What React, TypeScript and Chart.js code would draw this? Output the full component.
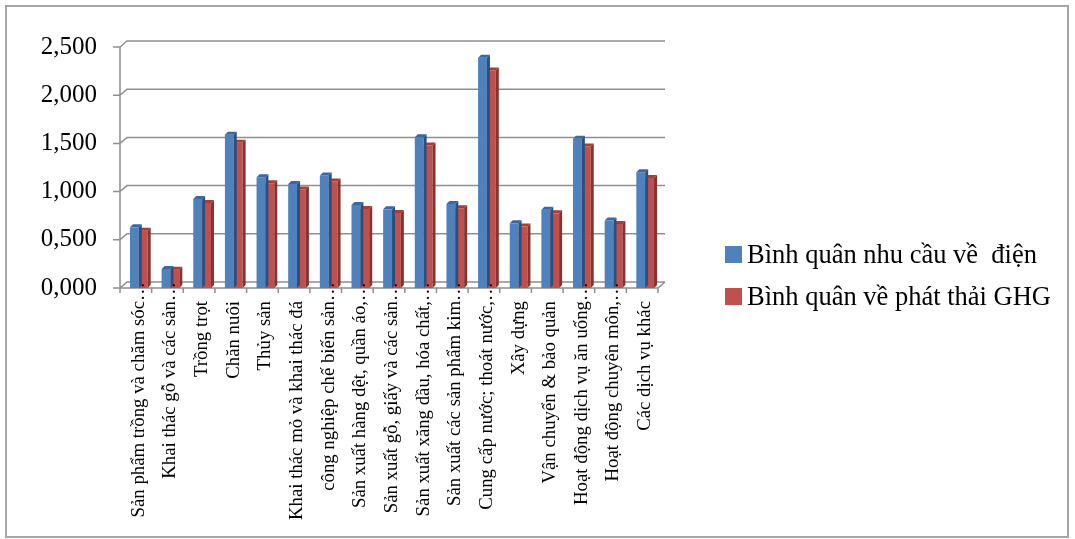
import React, { useEffect, useRef } from "react";
import { Chart, registerables } from "chart.js";

Chart.register(...registerables);

const categories: string[] = [
  "Sản phẩm trồng và chăm sóc…",
  "Khai thác gỗ và các sản…",
  "Trồng trọt",
  "Chăn nuôi",
  "Thủy sản",
  "Khai thác mỏ và khai thác đá",
  "công nghiệp chế biến sản…",
  "Sản xuất hàng dệt, quần áo,…",
  "Sản xuất gỗ, giấy và các sản…",
  "Sản xuất xăng dầu, hóa chất,…",
  "Sản xuất các sản phẩm kim…",
  "Cung cấp nước; thoát nước,…",
  "Xây dựng",
  "Vận chuyển & bảo quản",
  "Hoạt động dịch vụ ăn uống…",
  "Hoạt động chuyên môn,…",
  "Các dịch vụ khác",
];

const seriesNames: string[] = ["Bình quân nhu cầu về  điện", "Bình quân về phát thải GHG"];

const electricity: number[] = [
  0.629, 0.197, 0.924, 1.589, 1.148, 1.08, 1.166, 0.862, 0.816, 1.564, 0.872, 2.388, 0.671, 0.813, 1.547,
  0.699, 1.2,
];

const emissions: number[] = [
  0.595, 0.19, 0.883, 1.506, 1.086, 1.021, 1.104, 0.82, 0.779, 1.478, 0.827, 2.257, 0.637, 0.775, 1.467,
  0.665, 1.142,
];

const yMin = 0;
const yMax = 2.5;
const yStep = 0.5;

const FRONT = ["#4f81bd", "#c0504d"];
const TOPC = ["#3c67a0", "#a63f3c"];
const SIDE = ["#2d4f7e", "#883230"];

const FONT = "'Times New Roman', 'Liberation Serif', serif";
const DX = 7;
const DY = 6;
const BD = 3;

const chart3dPlugin = {
  id: "chart3d",
  beforeDatasetsDraw(chart: any) {
    const ctx = chart.ctx;
    const { left, right, top, bottom } = chart.chartArea;
    const yS = chart.scales.y;
    ctx.save();
    ctx.strokeStyle = "#8f8f8f";
    ctx.lineWidth = 1.5;
    ctx.beginPath();
    yS.ticks.forEach((t: any) => {
      const y = yS.getPixelForValue(t.value);
      ctx.moveTo(left - 7, y);
      ctx.lineTo(left, y);
      ctx.lineTo(left + DX, y - DY);
      ctx.lineTo(right + DX, y - DY);
    });
    ctx.moveTo(left, top);
    ctx.lineTo(left, bottom);
    ctx.moveTo(left, bottom);
    ctx.lineTo(right, bottom);
    ctx.lineTo(right + DX, bottom - DY);
    const n = categories.length;
    for (let k = 0; k <= n; k++) {
      const x = left + (k * (right - left)) / n;
      ctx.moveTo(x, bottom);
      ctx.lineTo(x, bottom + 5);
    }
    ctx.stroke();
    ctx.restore();
    ctx.save();
    ctx.translate(3, 0);
  },
  afterDatasetDraw(chart: any, args: any) {
    const ctx = chart.ctx;
    const i = args.index;
    const meta = chart.getDatasetMeta(i);
    meta.data.forEach((bar: any) => {
      const w = bar.width;
      const L = bar.x - w / 2;
      const R = bar.x + w / 2;
      const y = bar.y;
      const b = bar.base;
      ctx.fillStyle = TOPC[i];
      ctx.beginPath();
      ctx.moveTo(L, y);
      ctx.lineTo(L + BD, y - BD);
      ctx.lineTo(R + BD, y - BD);
      ctx.lineTo(R, y);
      ctx.closePath();
      ctx.fill();
      ctx.fillStyle = SIDE[i];
      ctx.beginPath();
      ctx.moveTo(R, y);
      ctx.lineTo(R + BD, y - BD);
      ctx.lineTo(R + BD, b - BD);
      ctx.lineTo(R, b);
      ctx.closePath();
      ctx.fill();
    });
  },
  afterDatasetsDraw(chart: any) {
    chart.ctx.restore();
  },
  afterDraw(chart: any) {
    const ctx = chart.ctx;
    const xS = chart.scales.x;
    ctx.save();
    ctx.fillStyle = "#000";
    ctx.font = `18.8px ${FONT}`;
    ctx.textBaseline = "middle";
    categories.forEach((lab, i) => {
      const x = xS.getPixelForValue(i) + 3;
      const hasEll = lab.endsWith("…");
      const main = hasEll ? lab.slice(0, -1) : lab;
      ctx.save();
      ctx.translate(x, 301);
      ctx.rotate(-Math.PI / 2);
      ctx.textAlign = "right";
      ctx.fillText(main, 0, 0);
      if (hasEll) {
        ctx.textAlign = "left";
        ctx.fillText("…", 0, 0);
      }
      ctx.restore();
    });
    // legend
    const rows = [255, 297];
    ctx.font = `26.5px ${FONT}`;
    ctx.textAlign = "left";
    seriesNames.forEach((name, i) => {
      ctx.fillStyle = FRONT[i];
      ctx.fillRect(725, rows[i] - 9, 17, 17);
      ctx.fillStyle = "#000";
      ctx.fillText(name, 747, rows[i] + 1);
    });
    ctx.restore();
  },
};

export default function App() {
  const ref = useRef<HTMLCanvasElement | null>(null);
  useEffect(() => {
    if (!ref.current) return;
    const chart = new Chart(ref.current, {
      type: "bar",
      data: {
        labels: categories,
        datasets: [
          {
            label: seriesNames[0],
            data: electricity,
            backgroundColor: FRONT[0],
            categoryPercentage: 0.56,
            barPercentage: 1,
          },
          {
            label: seriesNames[1],
            data: emissions,
            backgroundColor: FRONT[1],
            categoryPercentage: 0.56,
            barPercentage: 1,
          },
        ],
      },
      options: {
        responsive: false,
        animation: false,
        events: [],
        layout: { padding: { left: 0, right: 417, top: 47, bottom: 0 } },
        plugins: { legend: { display: false }, tooltip: { enabled: false } },
        scales: {
          x: {
            grid: { display: false, drawTicks: false },
            border: { display: false },
            ticks: { display: false },
            afterFit: (s: any) => {
              s.height = 251;
            },
          },
          y: {
            min: yMin,
            max: yMax,
            grid: { display: false, drawTicks: false },
            border: { display: false },
            ticks: {
              stepSize: yStep,
              padding: 23,
              color: "#000",
              font: { family: FONT, size: 25 },
              callback: (v: any) => Number(v).toFixed(3).replace(".", ","),
            },
            afterFit: (s: any) => {
              s.width = 120;
            },
          },
        },
      },
      plugins: [chart3dPlugin],
    });
    return () => chart.destroy();
  }, []);
  return (
    <div style={{ position: "fixed", left: 0, top: 0, width: 1075, height: 539, background: "#fff" }}>
      <div
        style={{
          position: "absolute",
          left: 5,
          top: 5,
          width: 1064,
          height: 533,
          border: "2px solid #a6a6a6",
          boxSizing: "border-box",
        }}
      />
      <canvas ref={ref} width={1075} height={539} style={{ position: "absolute", left: 0, top: 0, display: "block" }} />
    </div>
  );
}
